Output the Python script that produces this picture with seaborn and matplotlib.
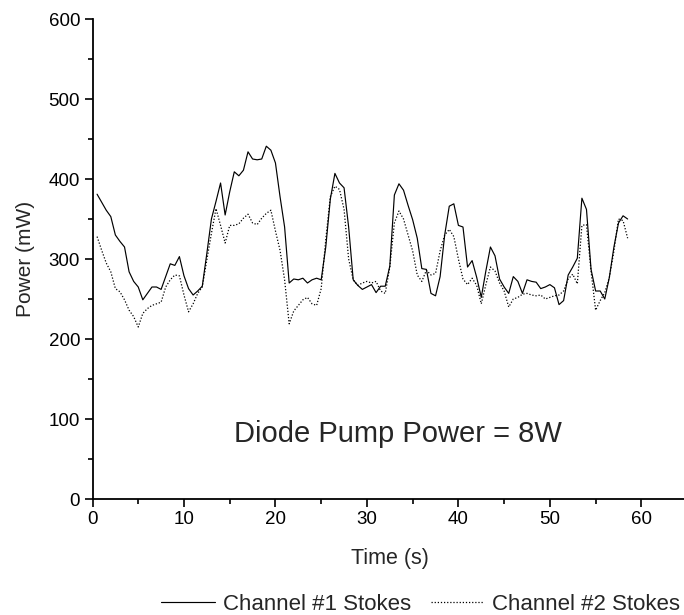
import matplotlib
matplotlib.use("Agg")
import matplotlib.pyplot as plt
import seaborn as sns
import numpy as np
import pandas as pd
from matplotlib.ticker import MultipleLocator

time_s = [0.5, 1.0, 1.5, 2.0, 2.5, 3.0, 3.5, 4.0, 4.5, 5.0, 5.5, 6.0, 6.5, 7.0, 7.5, 8.0, 8.5, 9.0, 9.5, 10.0,
          10.5, 11.0, 11.5, 12.0, 12.5, 13.0, 13.5, 14.0, 14.5, 15.0, 15.5, 16.0, 16.5, 17.0, 17.5, 18.0, 18.5, 19.0, 19.5, 20.0,
          20.5, 21.0, 21.5, 22.0, 22.5, 23.0, 23.5, 24.0, 24.5, 25.0, 25.5, 26.0, 26.5, 27.0, 27.5, 28.0, 28.5, 29.0, 29.5, 30.0,
          30.5, 31.0, 31.5, 32.0, 32.5, 33.0, 33.5, 34.0, 34.5, 35.0, 35.5, 36.0, 36.5, 37.0, 37.5, 38.0, 38.5, 39.0, 39.5, 40.0,
          40.5, 41.0, 41.5, 42.0, 42.5, 43.0, 43.5, 44.0, 44.5, 45.0, 45.5, 46.0, 46.5, 47.0, 47.5, 48.0, 48.5, 49.0, 49.5, 50.0,
          50.5, 51.0, 51.5, 52.0, 52.5, 53.0, 53.5, 54.0, 54.5, 55.0, 55.5, 56.0, 56.5, 57.0, 57.5, 58.0, 58.5]

channel1 = [381, 371, 361, 353, 330, 322, 315, 284, 272, 265, 249, 257, 265, 265, 262, 278, 294, 292, 303, 279,
            263, 255, 260, 266, 307, 350, 372, 395, 355, 384, 409, 404, 411, 434, 425, 424, 425, 441, 436, 420,
            378, 340, 270, 275, 274, 276, 270, 274, 276, 274, 315, 375, 407, 395, 389, 340, 274, 267, 262, 265,
            268, 258, 266, 266, 291, 380, 394, 386, 367, 349, 326, 288, 287, 257, 254, 278, 330, 366, 369, 342,
            340, 290, 298, 277, 252, 285, 315, 304, 275, 265, 257, 278, 272, 257, 274, 272, 271, 263, 265, 268,
            264, 243, 248, 280, 290, 301, 376, 362, 287, 260, 260, 250, 277, 315, 345, 354, 350]

channel2 = [328, 311, 295, 284, 263, 259, 249, 236, 228, 215, 232, 238, 242, 244, 246, 265, 274, 280, 279, 255,
            234, 244, 257, 265, 299, 332, 363, 342, 320, 342, 342, 344, 351, 356, 345, 343, 351, 357, 361, 335,
            311, 274, 219, 235, 242, 249, 252, 244, 242, 263, 324, 378, 391, 387, 362, 300, 274, 267, 270, 272,
            270, 272, 260, 257, 290, 345, 360, 350, 330, 310, 280, 272, 286, 280, 282, 310, 330, 337, 328, 300,
            275, 268, 276, 267, 244, 268, 290, 285, 270, 260, 240, 250, 252, 256, 257, 255, 254, 255, 250, 252,
            254, 255, 260, 275, 281, 269, 342, 343, 285, 236, 248, 258, 277, 310, 350, 348, 326]

series_labels = ["Channel #1 Stokes", "Channel #2 Stokes"]
x_label = "Time (s)"
y_label = "Power (mW)"
annotation = "Diode Pump Power = 8W"

sns.set_theme(style="ticks")
plt.rcParams['font.family'] = ['Liberation Sans', 'DejaVu Sans']

df = pd.DataFrame({"t": time_s, "c1": channel1, "c2": channel2})

fig = plt.figure(figsize=(6.84, 6.15), dpi=100)
ax = fig.add_axes([92.5 / 684, 1 - 499 / 615, 594.6 / 684, 480 / 615])

sns.lineplot(data=df, x="t", y="c1", ax=ax, color="black", linewidth=0.85,
             label=series_labels[0], legend=False)
sns.lineplot(data=df, x="t", y="c2", ax=ax, color="black", linewidth=0.9,
             linestyle=(0, (1, 1.5)), label=series_labels[1], legend=False)

ax.set_ylim(0, 600)
ax.xaxis.set_major_locator(MultipleLocator(10))
ax.xaxis.set_minor_locator(MultipleLocator(5))
ax.yaxis.set_major_locator(MultipleLocator(100))
ax.yaxis.set_minor_locator(MultipleLocator(50))
ax.set_xticks([0, 10, 20, 30, 40, 50, 60])
ax.set_xlim(0, 65)

for side in ["top", "right"]:
    ax.spines[side].set_visible(False)
for side in ["left", "bottom"]:
    ax.spines[side].set_linewidth(1.3)
    ax.spines[side].set_color("black")

ax.tick_params(axis="both", which="major", direction="out", length=6, width=1.2,
               labelsize=13.5, colors="black", pad=3)
ax.tick_params(axis="both", which="minor", direction="out", length=3.5, width=1.2, colors="black")

ax.set_xlabel(x_label, fontsize=15.5, labelpad=14)
ax.set_ylabel(y_label, fontsize=15, labelpad=10)

ax.text(33.4, 71, annotation, fontsize=21, ha="center", va="baseline")

handles, labels = ax.get_legend_handles_labels()
fig.legend(handles, labels, loc="center", bbox_to_anchor=(0.615, 0.017), ncol=2,
           frameon=False, fontsize=16, handlelength=2.4, handletextpad=0.35,
           columnspacing=0.9, borderpad=0)

fig.savefig("out.png", dpi=100)
